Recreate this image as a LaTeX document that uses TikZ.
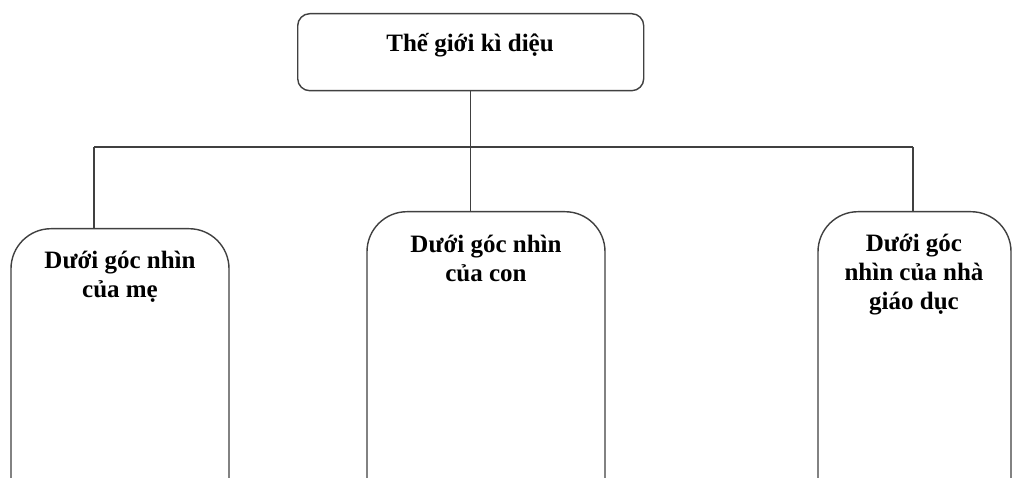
\documentclass[tikz,border=0pt]{standalone}
\usepackage{fontspec}
\setmainfont{Liberation Serif}
\begin{document}
\begin{tikzpicture}[x=1pt,y=-1pt,
  line/.style={draw=black!75, line width=1.4pt},
  topbox/.style={line, rounded corners=12pt, inner sep=0pt},
  bigbox/.style={line, rounded corners=40pt, inner sep=0pt, anchor=north},
  lbl/.style={font=\bfseries\fontsize{25}{29}\selectfont, align=center, anchor=north, inner sep=0pt, text=black}]
\useasboundingbox (0,0) rectangle (1024,478);
\fill[white] (0,0) rectangle (1024,478);
\clip (0,0) rectangle (1024,478);
% top box
\node[topbox, minimum width=346pt, minimum height=77pt, anchor=north west] (top) at (297,13) {};
\node[lbl] (toptxt) at (470,33) {Thế giới kì diệu};
% lower boxes
\node[bigbox, minimum width=218pt, minimum height=320pt] (mom) at (120,228) {};
\node[bigbox, minimum width=238pt, minimum height=320pt] (child) at (486,211) {};
\node[bigbox, minimum width=193pt, minimum height=320pt] (edu) at (914.5,211) {};
\node[lbl] (momtxt) at (120,251) {Dưới góc nhìn\\của mẹ};
\node[lbl] (childtxt) at (486,235) {Dưới góc nhìn\\của con};
\node[lbl] (edutxt) at (914,234) {Dưới góc\\nhìn của nhà\\giáo dục};
% connectors
\coordinate (busL) at (94,147);
\coordinate (busR) at (913,147);
\draw[line] (busL) -- (busR);
\draw[line] (top.south) -- (top.south |- child.north);
\draw[line] (busL) -- (busL |- mom.north);
\draw[line] (busR) -- (busR |- edu.north);
\end{tikzpicture}
\end{document}
